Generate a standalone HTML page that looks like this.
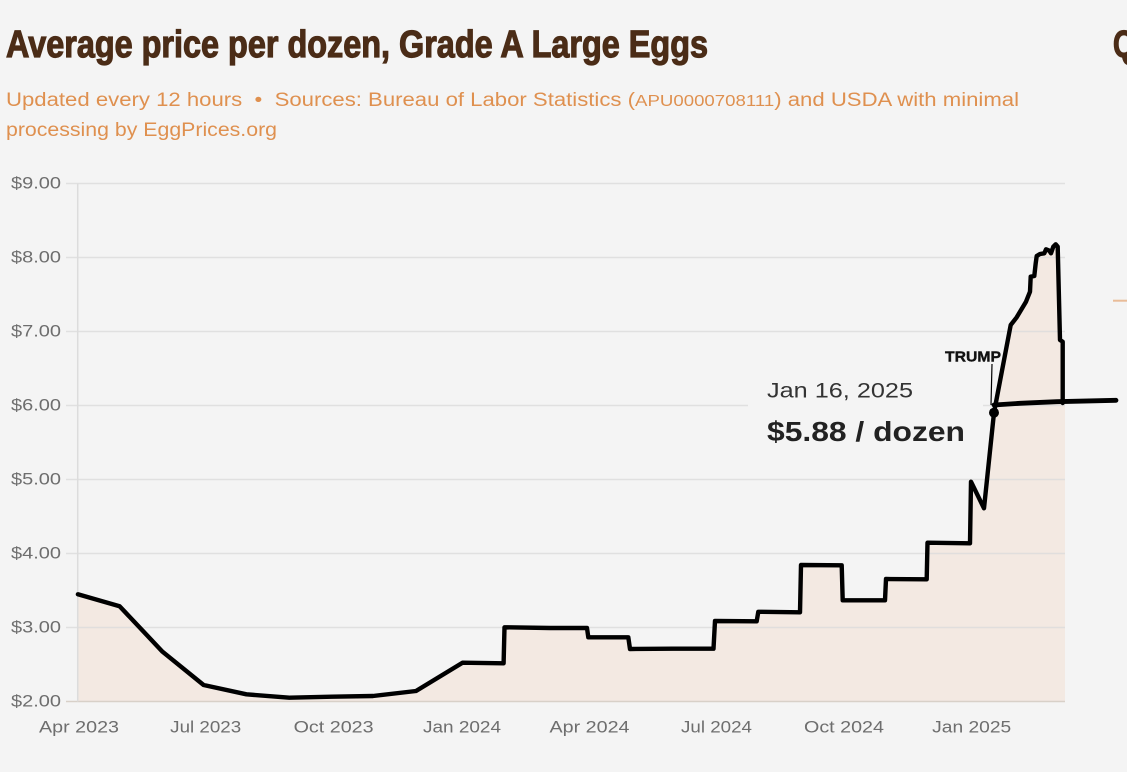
<!DOCTYPE html>
<html>
<head>
<meta charset="utf-8">
<style>
html,body{margin:0;padding:0;background:#f4f4f4;}
body{width:1127px;height:772px;overflow:hidden;}
svg{display:block;}
</style>
</head>
<body>
<svg width="1127" height="772" viewBox="0 0 1127 772" xmlns="http://www.w3.org/2000/svg">
<rect x="0" y="0" width="1127" height="772" fill="#f4f4f4"/>

<!-- Title -->
<text x="6" y="57" font-family="Liberation Sans, sans-serif" font-weight="bold" font-size="38" fill="#4b2c17" stroke="#4b2c17" stroke-width="1.2" textLength="702" lengthAdjust="spacingAndGlyphs">Average price per dozen, Grade A Large Eggs</text>
<text x="1113" y="57" font-family="Liberation Sans, sans-serif" font-weight="bold" font-size="38" fill="#4b2c17" stroke="#4b2c17" stroke-width="1.2" textLength="22" lengthAdjust="spacingAndGlyphs">Q</text>

<!-- Subtitle -->
<text x="6" y="106" font-family="Liberation Sans, sans-serif" font-size="19" fill="#df904f" textLength="1013" lengthAdjust="spacingAndGlyphs">Updated every 12 hours  &#160;•&#160;  Sources: Bureau of Labor Statistics (<tspan font-size="16">APU0000708111</tspan>) and USDA with minimal</text>
<text x="6" y="136" font-family="Liberation Sans, sans-serif" font-size="19" fill="#df904f" textLength="271" lengthAdjust="spacingAndGlyphs">processing by EggPrices.org</text>

<!-- orange short line at right -->
<line x1="1113" y1="300.7" x2="1127" y2="300.7" stroke="#e9bc98" stroke-width="2"/>

<!-- Fill -->
<path d="M77.9,594.3 L119.6,606.2 L162.5,651.7 L203.6,685 L246.4,694.3 L289.3,697.7 L332,696.7 L373,696 L416,691 L462.5,662.7 L503.6,663.3 L504.5,627.3 L550,628 L587,628 L588.3,637.3 L628.3,637.3 L630,649 L673,648.7 L713.5,648.7 L715,621 L756.7,621.3 L758.3,611.8 L800,612.3 L801,565 L841.7,565.3 L842.7,600.3 L885,600.3 L886,579 L926.7,579.3 L927.5,542.7 L970,543.3 L971,481.7 L984,508.3 L994,412.7 L1010.7,325 L1016.7,317.3 L1026,301.7 L1030,291.7 L1030.7,276.7 L1034.3,276 L1035.7,263.3 L1036.7,256 L1040,254 L1044.3,253.3 L1046,249.3 L1049.3,250.7 L1051,253.3 L1053.3,246.7 L1055.7,244.3 L1057.7,246.7 L1060,340 L1062.7,341.7 L1062.7,401.7 L1065,401.7 L1065,701.5 L77.9,701.5 Z" fill="#f3e9e2"/>

<!-- Gridlines -->
<g stroke="#dcdcdc" stroke-opacity="0.85" stroke-width="1.5">
<line x1="66" y1="183.5" x2="1065" y2="183.5"/>
<line x1="66" y1="257.5" x2="1065" y2="257.5"/>
<line x1="66" y1="331.5" x2="1065" y2="331.5"/>
<line x1="66" y1="405.5" x2="1065" y2="405.5"/>
<line x1="66" y1="479.5" x2="1065" y2="479.5"/>
<line x1="66" y1="553.5" x2="1065" y2="553.5"/>
<line x1="66" y1="627.5" x2="1065" y2="627.5"/>
</g>
<line x1="66" y1="701.5" x2="1065" y2="701.5" stroke="#d8d0c8" stroke-width="1.5"/>
<line x1="77.7" y1="183.5" x2="77.7" y2="701.5" stroke="#dcdcdc" stroke-width="1.5"/>

<!-- Y labels -->
<g font-family="Liberation Sans, sans-serif" font-size="17" fill="#6e6e6e" text-anchor="end">
<text x="61" y="188.5" textLength="50" lengthAdjust="spacingAndGlyphs">$9.00</text>
<text x="61" y="262.5" textLength="50" lengthAdjust="spacingAndGlyphs">$8.00</text>
<text x="61" y="336.5" textLength="50" lengthAdjust="spacingAndGlyphs">$7.00</text>
<text x="61" y="410.5" textLength="50" lengthAdjust="spacingAndGlyphs">$6.00</text>
<text x="61" y="484.5" textLength="50" lengthAdjust="spacingAndGlyphs">$5.00</text>
<text x="61" y="558.5" textLength="50" lengthAdjust="spacingAndGlyphs">$4.00</text>
<text x="61" y="632.5" textLength="50" lengthAdjust="spacingAndGlyphs">$3.00</text>
<text x="61" y="706.5" textLength="50" lengthAdjust="spacingAndGlyphs">$2.00</text>
</g>

<!-- X labels -->
<g font-family="Liberation Sans, sans-serif" font-size="17" fill="#6e6e6e" text-anchor="middle">
<text x="79" y="732.7" textLength="80" lengthAdjust="spacingAndGlyphs">Apr 2023</text>
<text x="205.7" y="732.7" textLength="71" lengthAdjust="spacingAndGlyphs">Jul 2023</text>
<text x="333.6" y="732.7" textLength="80" lengthAdjust="spacingAndGlyphs">Oct 2023</text>
<text x="462" y="732.7" textLength="78" lengthAdjust="spacingAndGlyphs">Jan 2024</text>
<text x="589.5" y="732.7" textLength="80" lengthAdjust="spacingAndGlyphs">Apr 2024</text>
<text x="716.5" y="732.7" textLength="71" lengthAdjust="spacingAndGlyphs">Jul 2024</text>
<text x="844" y="732.7" textLength="80" lengthAdjust="spacingAndGlyphs">Oct 2024</text>
<text x="971.7" y="732.7" textLength="79" lengthAdjust="spacingAndGlyphs">Jan 2025</text>
</g>

<!-- Tooltip box -->
<rect x="748" y="372" width="235" height="78" fill="#f4f4f4"/>
<text x="767" y="397.3" font-family="Liberation Sans, sans-serif" font-size="21" fill="#333333" textLength="146" lengthAdjust="spacingAndGlyphs">Jan 16, 2025</text>
<text x="767" y="441" font-family="Liberation Sans, sans-serif" font-weight="bold" font-size="28" fill="#222222" textLength="198" lengthAdjust="spacingAndGlyphs">$5.88 / dozen</text>

<!-- Main line -->
<path d="M77.9,594.3 L119.6,606.2 L162.5,651.7 L203.6,685 L246.4,694.3 L289.3,697.7 L332,696.7 L373,696 L416,691 L462.5,662.7 L503.6,663.3 L504.5,627.3 L550,628 L587,628 L588.3,637.3 L628.3,637.3 L630,649 L673,648.7 L713.5,648.7 L715,621 L756.7,621.3 L758.3,611.8 L800,612.3 L801,565 L841.7,565.3 L842.7,600.3 L885,600.3 L886,579 L926.7,579.3 L927.5,542.7 L970,543.3 L971,481.7 L984,508.3 L994,412.7 L1010.7,325 L1016.7,317.3 L1026,301.7 L1030,291.7 L1030.7,276.7 L1034.3,276 L1035.7,263.3 L1036.7,256 L1040,254 L1044.3,253.3 L1046,249.3 L1049.3,250.7 L1051,253.3 L1053.3,246.7 L1055.7,244.3 L1057.7,246.7 L1060,340 L1062.7,341.7 L1062.7,403" fill="none" stroke="#000" stroke-width="4.4" stroke-linejoin="round" stroke-linecap="round"/>

<!-- Hand-drawn horizontal line -->
<path d="M994,405 L1020,403.3 L1056.7,401.7 L1116,400.3" fill="none" stroke="#000" stroke-width="4.8" stroke-linecap="round"/>

<!-- TRUMP annotation -->
<line x1="992" y1="364" x2="991" y2="405" stroke="#000" stroke-width="1.2"/>
<text x="945" y="361.7" font-family="Liberation Sans, sans-serif" font-weight="bold" font-size="15" fill="#111" stroke="#111" stroke-width="0.4" textLength="56" lengthAdjust="spacingAndGlyphs">TRUMP</text>
<circle cx="994" cy="412.7" r="5" fill="#000"/>
</svg>
</body>
</html>
